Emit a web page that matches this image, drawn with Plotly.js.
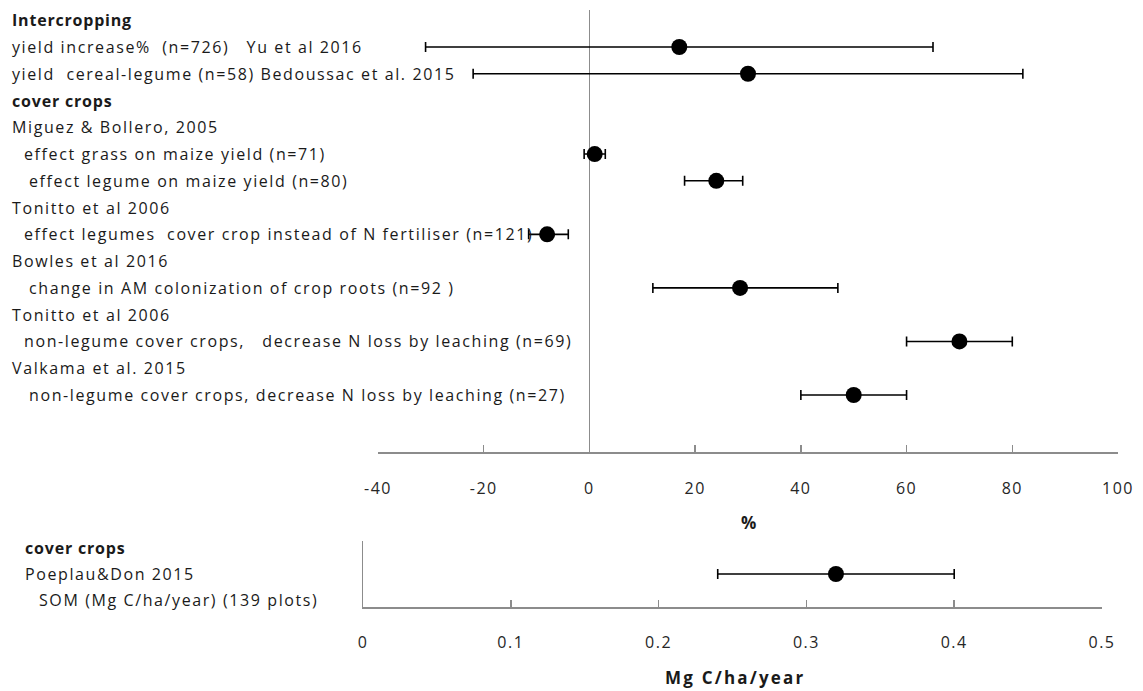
<!DOCTYPE html>
<html>
<head>
<meta charset="utf-8">
<script src="https://cdn.plot.ly/plotly-3.0.1.min.js"></script>
<style>
  html, body { margin: 0; padding: 0; background: #fff; }
  #chart { width: 1143px; height: 691px; }
  .xtick text, .x2tick text { letter-spacing: 1.5px; }
</style>
</head>
<body>
<div id="chart"></div>
<script>
// ---------------- DATA ----------------
// Row labels of the upper panel (top to bottom)
const pctRowLabels = [
  'Intercropping',
  'yield increase%  (n=726)   Yu et al 2016',
  'yield  cereal-legume (n=58) Bedoussac et al. 2015',
  'cover crops',
  'Miguez & Bollero, 2005',
  'effect grass on maize yield (n=71)',
  'effect legume on maize yield (n=80)',
  'Tonitto et al 2006',
  'effect legumes  cover crop instead of N fertiliser (n=121)',
  'Bowles et al 2016',
  'change in AM colonization of crop roots (n=92 )',
  'Tonitto et al 2006',
  'non-legume cover crops,   decrease N loss by leaching (n=69)',
  'Valkama et al. 2015',
  'non-legume cover crops, decrease N loss by leaching (n=27)'
];
// Effects (%) with lower / upper confidence limits
const pctStudies = [
  'yield increase%  (n=726)   Yu et al 2016',
  'yield  cereal-legume (n=58) Bedoussac et al. 2015',
  'effect grass on maize yield (n=71)',
  'effect legume on maize yield (n=80)',
  'effect legumes  cover crop instead of N fertiliser (n=121)',
  'change in AM colonization of crop roots (n=92 )',
  'non-legume cover crops,   decrease N loss by leaching (n=69)',
  'non-legume cover crops, decrease N loss by leaching (n=27)'
];
const pctMean  = [17, 30, 1, 24, -8, 28.5, 70, 50];
const pctLower = [-31, -22, -1, 18, -11.5, 12, 60, 40];
const pctUpper = [65, 82, 3, 29, -4, 47, 80, 60];
const pctTicks = [-40, -20, 0, 20, 40, 60, 80, 100];

// Lower panel
const somRowLabels = [
  'cover crops',
  'Poeplau&Don 2015',
  'SOM (Mg C/ha/year) (139 plots)'
];
const somStudies = ['Poeplau&Don 2015'];
const somMean  = [0.32];
const somLower = [0.24];
const somUpper = [0.40];
const somTicks = [0, 0.1, 0.2, 0.3, 0.4, 0.5];

const headerLabels = ['Intercropping', 'cover crops'];

// ---------------- LAYOUT HELPERS ----------------
const W = 1143, H = 691;
const px = v => v / W;
const py = v => 1 - v / H;
const FONT = 'Open Sans, Liberation Sans, sans-serif';
const TXT = '#1a1a1a';
const AX = '#8c8c8c';

// label x offsets (pixels) per row, upper and lower panel
const pctLabelX = [10, 10, 10, 10, 10, 22, 27, 10, 22, 10, 27, 10, 22, 10, 27];
const somLabelX = [23, 23, 37];

// row pixel geometry
const ROW0 = 20.2, ROWH = 26.77;      // upper panel
const SROW0 = 548, SROWH = 26;        // lower panel

// ---------------- TRACES ----------------
const pctY = pctStudies.map(s => pctRowLabels.indexOf(s));
const somY = somStudies.map(s => somRowLabels.indexOf(s));

const errStyle = { color: '#000', thickness: 1.6, width: 5 };

const traces = [
  {
    type: 'scatter', mode: 'markers', xaxis: 'x', yaxis: 'y',
    x: pctMean, y: pctY,
    marker: { color: '#000', size: 16 },
    error_x: Object.assign({
      type: 'data', symmetric: false,
      array: pctUpper.map((u, i) => u - pctMean[i]),
      arrayminus: pctLower.map((l, i) => pctMean[i] - l)
    }, errStyle),
    hoverinfo: 'skip', cliponaxis: false
  },
  {
    type: 'scatter', mode: 'markers', xaxis: 'x2', yaxis: 'y2',
    x: somMean, y: somY,
    marker: { color: '#000', size: 16 },
    error_x: Object.assign({
      type: 'data', symmetric: false,
      array: somUpper.map((u, i) => u - somMean[i]),
      arrayminus: somLower.map((l, i) => somMean[i] - l)
    }, errStyle),
    hoverinfo: 'skip', cliponaxis: false
  }
];

// ---------------- ANNOTATIONS ----------------
function fmtLabel(t) {
  if (headerLabels.includes(t)) {
    return '<b><span style="letter-spacing:0.8px">' + t + '</span></b>';
  }
  return '<span style="letter-spacing:1.6px">' + t + '</span>';
}
const annotations = [];
pctRowLabels.forEach((t, i) => {
  annotations.push({
    text: fmtLabel(t),
    xref: 'paper', yref: 'y', x: px(pctLabelX[i]), y: i,
    xanchor: 'left', yanchor: 'middle', showarrow: false,
    font: { family: FONT, size: 16, color: TXT }
  });
});
somRowLabels.forEach((t, i) => {
  annotations.push({
    text: fmtLabel(t),
    xref: 'paper', yref: 'y2', x: px(somLabelX[i]), y: i,
    xanchor: 'left', yanchor: 'middle', showarrow: false,
    font: { family: FONT, size: 16, color: TXT }
  });
});
annotations.push({
  text: '<b>%</b>', xref: 'paper', yref: 'paper',
  x: px(748), y: py(522), xanchor: 'center', yanchor: 'middle',
  showarrow: false, font: { family: FONT, size: 17, color: TXT }
});
annotations.push({
  text: '<b><span style="letter-spacing:2.2px">Mg C/ha/year</span></b>', xref: 'paper', yref: 'paper',
  x: px(735), y: py(677), xanchor: 'center', yanchor: 'middle',
  showarrow: false, font: { family: FONT, size: 17, color: TXT }
});

// ---------------- LAYOUT ----------------
const tickFont = { family: FONT, size: 16, color: '#262626' };
const layout = {
  width: W, height: H,
  margin: { l: 0, r: 0, t: 0, b: 0, pad: 0 },
  paper_bgcolor: '#fff', plot_bgcolor: 'rgba(0,0,0,0)',
  showlegend: false,
  font: { family: FONT, size: 16, color: TXT },
  xaxis: {
    domain: [px(378), px(1118)], anchor: 'y',
    range: [-40, 100], tickvals: pctTicks, ticktext: pctTicks.map(String),
    showgrid: false,
    zeroline: true, zerolinecolor: AX, zerolinewidth: 1.5,
    showline: true, linecolor: AX, linewidth: 1.5,
    ticks: 'inside', ticklen: 7, tickwidth: 1.5, tickcolor: AX,
    ticklabelstandoff: 21,
    tickfont: tickFont
  },
  yaxis: {
    domain: [py(452), py(10)], anchor: 'x',
    range: [(452 - ROW0) / ROWH, (10 - ROW0) / ROWH],
    showgrid: false, zeroline: false, showline: false,
    showticklabels: false, ticks: ''
  },
  xaxis2: {
    domain: [px(363), px(1102)], anchor: 'y2',
    range: [0, 0.5], tickvals: somTicks, ticktext: somTicks.map(String),
    showgrid: false, zeroline: false,
    showline: true, linecolor: AX, linewidth: 1.5,
    ticks: 'inside', ticklen: 7, tickwidth: 1.5, tickcolor: AX,
    ticklabelstandoff: 20,
    tickfont: tickFont
  },
  yaxis2: {
    domain: [py(607), py(541)], anchor: 'x2',
    range: [(607 - SROW0) / SROWH, (541 - SROW0) / SROWH],
    showgrid: false, zeroline: false,
    showline: true, linecolor: AX, linewidth: 1.5,
    showticklabels: false, ticks: ''
  },
  annotations: annotations
};

Plotly.newPlot('chart', traces, layout, { staticPlot: true, displayModeBar: false });
</script>
</body>
</html>
